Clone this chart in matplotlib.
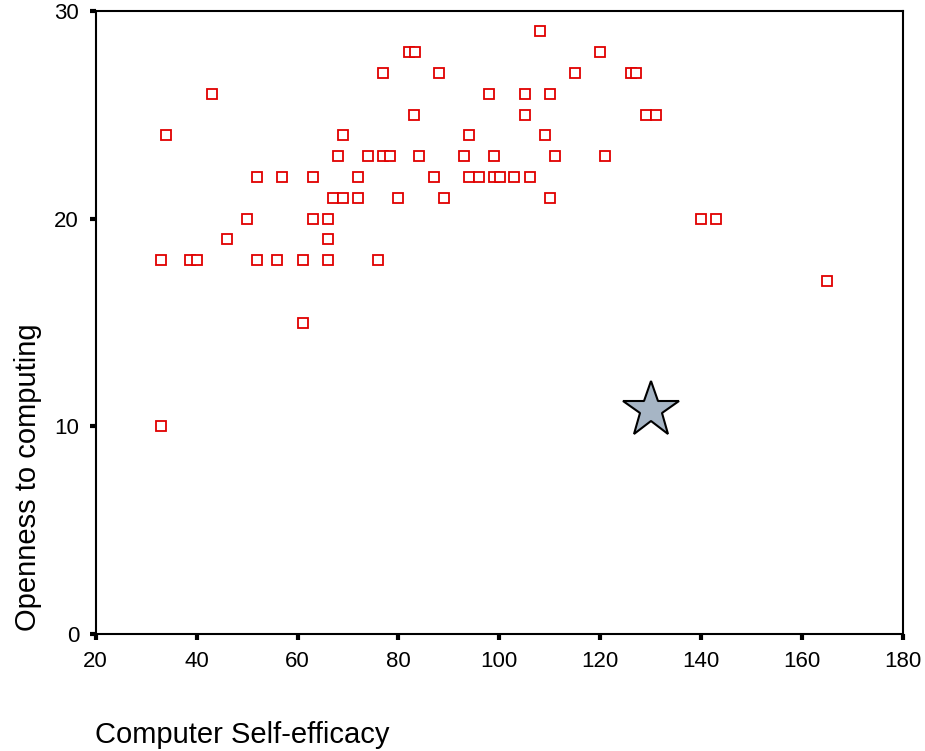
import numpy as np
import matplotlib
matplotlib.use("Agg")
import matplotlib.pyplot as plt

plt.rcParams['font.family'] = ['Liberation Sans', 'DejaVu Sans']

# Computer self-efficacy vs openness to computing, one marker per respondent
self_efficacy = [77, 43, 34, 69, 68, 74, 77, 78.3,
                 52, 57, 63, 72,
                 67, 69, 72, 80,
                 50, 63, 66,
                 46, 66,
                 33, 38.7, 40.1, 52, 56, 61, 66, 76,
                 108, 82, 83.2, 120, 88, 115, 126, 127,
                 98, 105, 110, 83, 105, 129, 131,
                 94, 109, 84, 93, 99, 111, 121,
                 87, 94, 96, 99, 100.2, 103, 106,
                 89, 110, 140, 143, 165, 33, 61]
openness = [27, 26, 24, 24, 23, 23, 23, 23,
            22, 22, 22, 22,
            21, 21, 21, 21,
            20, 20, 20,
            19, 19,
            18, 18, 18, 18, 18, 18, 18, 18,
            29, 28, 28, 28, 27, 27, 27, 27,
            26, 26, 26, 25, 25, 25, 25,
            24, 24, 23, 23, 23, 23, 23,
            22, 22, 22, 22, 22, 22, 22,
            21, 21, 20, 20, 17, 10, 15]

# highlighted case
star_x = [130]
star_y = [10.8]

fig = plt.figure(figsize=(9.25, 7.51), dpi=100)
ax = fig.add_axes([95.7/925, 1 - 634.3/751, (903 - 95.7)/925, (634.3 - 10.7)/751])

ax.plot(self_efficacy, openness, linestyle='none', marker='s', markersize=6.8,
        markerfacecolor='white', markeredgecolor='#e00000', markeredgewidth=1.3)
ax.plot(star_x, star_y, linestyle='none', marker='*', markersize=42,
        markerfacecolor='#a6b5c5', markeredgecolor='black', markeredgewidth=1.5)

ax.set_xlim(20, 180)
ax.set_ylim(0, 30)
ax.set_xticks(np.arange(20, 181, 20))
ax.set_yticks([0, 10, 20, 30])

for s in ax.spines.values():
    s.set_linewidth(1.5)
ax.tick_params(direction='out', length=4, width=3, labelsize=16, pad=8, color='black')

fig.text(28/925, 1 - 477/751, 'Openness to computing', rotation=90,
         ha='center', va='center', fontsize=21)
fig.text(95/925, 1 - 735/751, 'Computer Self-efficacy', ha='left', va='center', fontsize=21)

fig.savefig('out.png', dpi=100)
